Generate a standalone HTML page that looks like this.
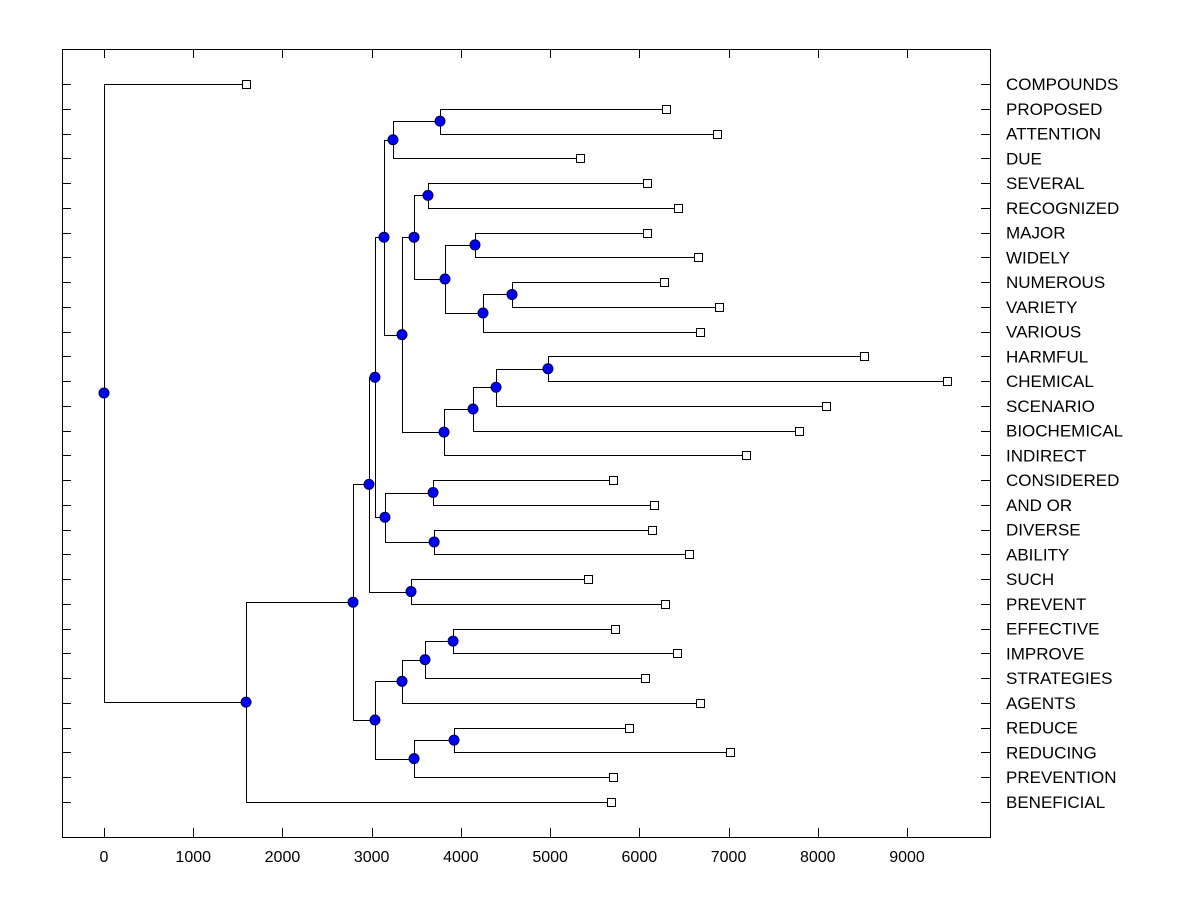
<!DOCTYPE html>
<html><head><meta charset="utf-8"><style>
body{margin:0;background:#fff}
svg{display:block;font-family:"Liberation Sans",Arial,sans-serif}
</style></head><body>
<svg id="chart" width="1200" height="900" viewBox="0 0 1200 900" xmlns="http://www.w3.org/2000/svg">
<rect x="0" y="0" width="1200" height="900" fill="#fff"/>
<g id="g-axes"></g><g id="g-links"></g><g id="g-marks"></g><g id="g-labels"></g>
</svg>
<script>
const labels=["COMPOUNDS","PROPOSED","ATTENTION","DUE","SEVERAL","RECOGNIZED","MAJOR","WIDELY","NUMEROUS","VARIETY","VARIOUS","HARMFUL","CHEMICAL","SCENARIO","BIOCHEMICAL","INDIRECT","CONSIDERED","AND OR","DIVERSE","ABILITY","SUCH","PREVENT","EFFECTIVE","IMPROVE","STRATEGIES","AGENTS","REDUCE","REDUCING","PREVENTION","BENEFICIAL"];
const leafValues=[1592,6299,6871,5335,6086,6434,6086,6658,6277,6893,6680,8518,9449,8092,7790,7196,5705,6165,6142,6557,5425,6288,5727,6422,6064,6680,5884,7016,5705,5683];
// merges: [leftChild, rightChild, height]; leaf ids are L0..L29, merged nodes get ids 30,31,...
const merges=[
["L1","L2",3766],
[30,"L3",3239],
["L4","L5",3631],
["L6","L7",4158],
["L8","L9",4573],
[34,"L10",4248],
[33,35,3822],
[32,36,3475],
["L11","L12",4976],
[38,"L13",4394],
[39,"L14",4136],
[40,"L15",3811],
[37,41,3340],
[31,42,3138],
["L16","L17",3688],
["L18","L19",3700],
[44,45,3149],
[43,46,3037],
["L20","L21",3441],
[47,48,2970],
["L22","L23",3912],
[50,"L24",3598],
[51,"L25",3340],
["L26","L27",3923],
[53,"L28",3475],
[52,54,3037],
[49,55,2791],
[56,"L29",1592],
["L0",57,0]
];
const xTicks=[0,1000,2000,3000,4000,5000,6000,7000,8000,9000];

const NS="http://www.w3.org/2000/svg";
const X0=62,X1=990,Y0=49,Y1=837;
const xs=v=>104+v*(907-104)/9000;
const ys=i=>84+i*(802-84)/29;
function mk(tag,attrs,parent){const e=document.createElementNS(NS,tag);for(const k in attrs)e.setAttribute(k,attrs[k]);parent.appendChild(e);return e;}
const gA=document.getElementById('g-axes'),gL=document.getElementById('g-links'),gM=document.getElementById('g-marks'),gT=document.getElementById('g-labels');

let fr=mk('rect',{x:X0+0.5,y:Y0+0.5,width:X1-X0,height:Y1-Y0,fill:'none',stroke:'#000','stroke-width':1},gA);


xTicks.forEach(t=>{
  const x=Math.round(xs(t))+0.5;
  let a=mk('line',{x1:x,y1:Y1,x2:x,y2:Y1-9,stroke:'#000'},gA);
  
  
  let b=mk('line',{x1:x,y1:Y0,x2:x,y2:Y0+9,stroke:'#000'},gA);
  
  
  let tx=mk('text',{x:xs(t),y:862,'font-size':16,'text-anchor':'middle'},gT);
  tx.textContent=t;
  
  
});
labels.forEach((l,i)=>{
  const y=Math.round(ys(i))+0.5;
  let a=mk('line',{x1:X0,y1:y,x2:X0+9,y2:y,stroke:'#000'},gA);
  
  
  let b=mk('line',{x1:X1-9,y1:y,x2:X1,y2:y,stroke:'#000'},gA);
  
  
  let tx=mk('text',{x:1006,y:ys(i)+6,'font-size':17},gT);
  tx.textContent=l;
  
  
});
const pos={};
leafValues.forEach((v,i)=>{pos["L"+i]={x:xs(v),y:ys(i)};});
merges.forEach((m,k)=>{
  const a=pos[m[0]],b=pos[m[1]],x=xs(m[2]),y=(a.y+b.y)/2;
  pos[30+k]={x,y};
  const px=Math.round(x)+0.5;
  let p=mk('path',{d:`M${a.x} ${Math.round(a.y)+0.5}H${px}V${Math.round(b.y)+0.5}H${b.x}`,fill:'none',stroke:'#000','stroke-width':1},gL);
  
  
});
leafValues.forEach((v,i)=>{
  const p=pos["L"+i];
  let r=mk('rect',{x:Math.round(p.x)-3.5,y:Math.round(p.y)-3.5,width:8,height:8,fill:'#fff',stroke:'#000'},gM);
  
  
});
merges.forEach((m,k)=>{
  const p=pos[30+k];
  let c=mk('circle',{cx:p.x,cy:p.y,r:5,fill:'#0000ff',stroke:'#000040','stroke-width':1},gM);
  
  
});
</script>
</body></html>
